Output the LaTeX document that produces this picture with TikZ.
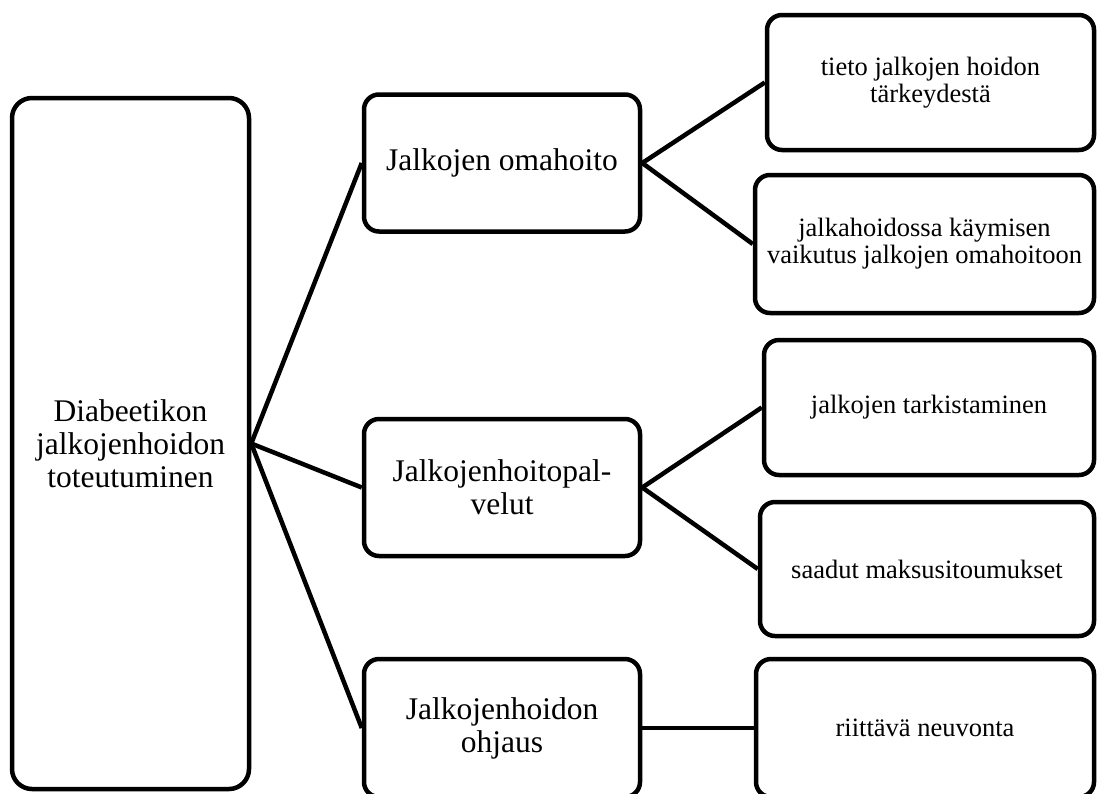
\documentclass[tikz,border=0pt]{standalone}
\usepackage{fontspec}
\setmainfont{Liberation Serif}

\begin{document}
\begin{tikzpicture}[x=1pt, y=-1pt,
	box/.style={draw, line width=4.5pt, rounded corners=15pt, align=center, inner sep=0pt},
	main/.style={box, minimum width=237pt, minimum height=691pt, rounded corners=20pt, font=\fontsize{31.5}{33}\selectfont},
	mid/.style={box, minimum width=276pt, minimum height=137pt, font=\fontsize{31.5}{33}\selectfont},
	leaf/.style={box, minimum height=136pt, font=\fontsize{26.5}{27}\selectfont},
	link/.style={line width=4.5pt}]
	\useasboundingbox (0,0) rectangle (1099,793);
	\clip (0,0) rectangle (1099,793);
	\node[main] (diab) at (130.5,443.5) {Diabeetikon\\jalkojenhoidon\\toteutuminen};
	\node[mid] (oma) at (502,163) {Jalkojen omahoito};
	\node[mid] (palv) at (502,487.5) {Jalkojenhoitopal-\\velut};
	\node[mid, minimum height=138pt] (ohj) at (502,728) {Jalkojenhoidon\\ohjaus};
	\node[leaf, minimum width=327pt, minimum height=135pt] (tieto) at (930.5,82.5) {tieto jalkojen hoidon\\tärkeydestä};
	\node[leaf, minimum width=339pt, minimum height=138pt] (kaynti) at (924.5,244) {jalkahoidossa käymisen\\vaikutus jalkojen omahoitoon};
	\node[leaf, minimum width=330pt, minimum height=135pt] (tark) at (929,407.5) {jalkojen tarkistaminen};
	\node[leaf, minimum width=334pt, minimum height=134pt] (maksu) at (927,569) {saadut maksusitoumukset};
	\node[leaf, minimum width=338pt, minimum height=138pt] (neuv) at (925,728) {riittävä neuvonta};
	\draw[link] (diab.east) -- (oma.west);
	\draw[link] (diab.east) -- (palv.west);
	\draw[link] (diab.east) -- (ohj.west);
	\draw[link] (oma.east) -- (tieto.west);
	\draw[link] (oma.east) -- (kaynti.west);
	\draw[link] (palv.east) -- (tark.west);
	\draw[link] (palv.east) -- (maksu.west);
	\draw[link] (ohj.east) -- (neuv.west);
\end{tikzpicture}
\end{document}
